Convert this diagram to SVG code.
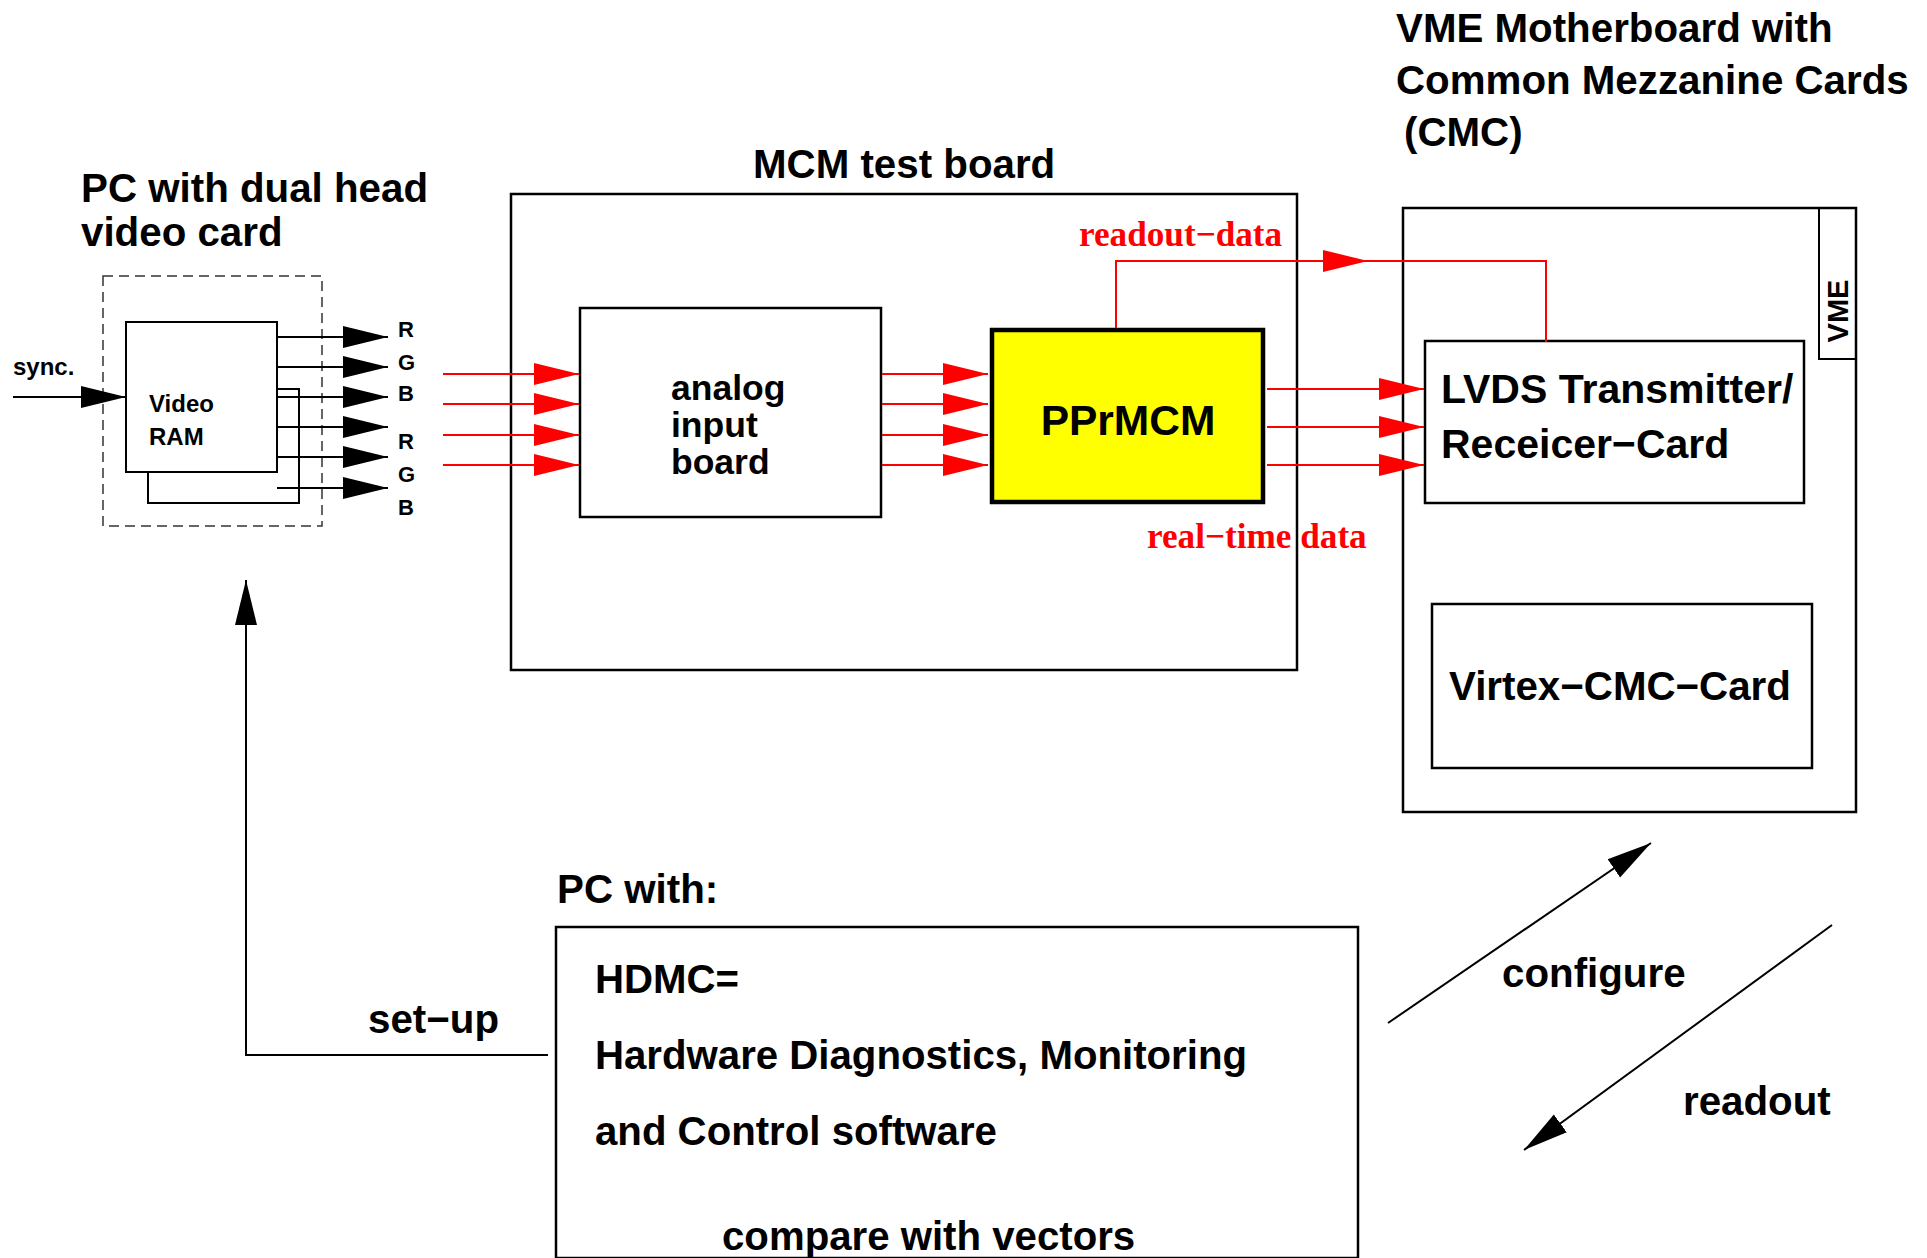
<svg xmlns="http://www.w3.org/2000/svg" width="1927" height="1258" viewBox="0 0 1927 1258">
<defs>
<style>
.t{font-family:"Liberation Sans",Arial,sans-serif;font-weight:bold;fill:#000}
.r{font-family:"Liberation Serif","Times New Roman",serif;font-weight:bold;fill:#ff0000}
.box{fill:#fff;stroke:#000;stroke-width:2.5}
.blk{fill:none;stroke:#000;stroke-width:2}
.red{fill:none;stroke:#ff0000;stroke-width:2}
</style>
<marker id="ab" markerUnits="userSpaceOnUse" markerWidth="46" markerHeight="24" viewBox="0 0 46 24" refX="45" refY="12" orient="auto"><path d="M0,1 L45,12 L0,23 z" fill="#000"/></marker>
<marker id="ar" markerUnits="userSpaceOnUse" markerWidth="46" markerHeight="24" viewBox="0 0 46 24" refX="45" refY="12" orient="auto"><path d="M0,1 L45,12 L0,23 z" fill="#ff0000"/></marker>
</defs>
<rect width="1927" height="1258" fill="#fff"/>

<g id="pc-video">
<text class="t" x="81" y="202" font-size="40.3">PC with dual head</text>
<text class="t" x="81" y="246" font-size="40.3">video card</text>
<rect x="103" y="276" width="219" height="250" fill="none" stroke="#333" stroke-width="1.5" stroke-dasharray="10,6"/>
<polyline class="blk" points="277,389 299,389 299,503 148,503 148,472"/>
<rect x="126" y="322" width="151" height="150" fill="#fff" stroke="#000" stroke-width="2"/>
<text class="t" x="149" y="412" font-size="24">Video</text>
<text class="t" x="149" y="445" font-size="24">RAM</text>
<text class="t" x="13" y="375" font-size="24">sync.</text>
<text class="t" x="398" y="337" font-size="22">R</text>
<text class="t" x="398" y="370" font-size="22">G</text>
<text class="t" x="398" y="401" font-size="22">B</text>
<text class="t" x="398" y="449" font-size="22">R</text>
<text class="t" x="398" y="482" font-size="22">G</text>
<text class="t" x="398" y="515" font-size="22">B</text>
</g>

<g id="mcm-board">
<text class="t" x="753" y="178" font-size="40.3">MCM test board</text>
<rect class="box" x="511" y="194" width="786" height="476" fill="none"/>
</g>

<g id="analog-input">
<rect class="box" x="580" y="308" width="301" height="209"/>
<text class="t" x="671" y="400" font-size="35.5">analog</text>
<text class="t" x="671" y="437" font-size="35.5">input</text>
<text class="t" x="671" y="474" font-size="35.5">board</text>
</g>

<g id="pprmcm">
<rect x="992" y="330" width="271" height="172" fill="#ffff00" stroke="#000" stroke-width="4.5"/>
<text class="t" x="1128" y="435" font-size="42.5" text-anchor="middle">PPrMCM</text>
</g>

<g id="vme">
<text class="t" x="1396" y="42" font-size="40.3">VME Motherboard with</text>
<text class="t" x="1396" y="94" font-size="40.3">Common Mezzanine Cards</text>
<text class="t" x="1404" y="146" font-size="40.3">(CMC)</text>
<rect class="box" x="1403" y="208" width="453" height="604"/>
<polyline class="blk" points="1819,208 1819,359 1856,359"/>
<text class="t" x="1848" y="311" font-size="29" text-anchor="middle" transform="rotate(-90 1848 311)">VME</text>
</g>

<g id="lvds">
<rect class="box" x="1425" y="341" width="379" height="162"/>
<text class="t" x="1441" y="403" font-size="41">LVDS Transmitter/</text>
<text class="t" x="1441" y="458" font-size="41">Receicer−Card</text>
</g>

<g id="virtex">
<rect class="box" x="1432" y="604" width="380" height="164"/>
<text class="t" x="1449" y="700" font-size="40.3">Virtex−CMC−Card</text>
</g>

<g id="pc-hdmc">
<text class="t" x="557" y="903" font-size="40.3">PC with:</text>
<rect class="box" x="556" y="927" width="802" height="331"/>
<text class="t" x="595" y="993" font-size="40.2">HDMC=</text>
<text class="t" x="595" y="1069" font-size="40.2">Hardware Diagnostics, Monitoring</text>
<text class="t" x="595" y="1145" font-size="40.2">and Control software</text>
<text class="t" x="722" y="1250" font-size="40.2">compare with vectors</text>
</g>

<g id="connectors">
<line class="blk" x1="13" y1="397" x2="126" y2="397" marker-end="url(#ab)"/>
<line class="blk" x1="277" y1="337" x2="388" y2="337" marker-end="url(#ab)"/>
<line class="blk" x1="277" y1="367" x2="388" y2="367" marker-end="url(#ab)"/>
<line class="blk" x1="277" y1="397" x2="388" y2="397" marker-end="url(#ab)"/>
<line class="blk" x1="277" y1="427" x2="388" y2="427" marker-end="url(#ab)"/>
<line class="blk" x1="277" y1="457" x2="388" y2="457" marker-end="url(#ab)"/>
<line class="blk" x1="277" y1="488" x2="388" y2="488" marker-end="url(#ab)"/>

<line class="red" x1="443" y1="374" x2="579" y2="374" marker-end="url(#ar)"/>
<line class="red" x1="443" y1="404" x2="579" y2="404" marker-end="url(#ar)"/>
<line class="red" x1="443" y1="435" x2="579" y2="435" marker-end="url(#ar)"/>
<line class="red" x1="443" y1="465" x2="579" y2="465" marker-end="url(#ar)"/>

<line class="red" x1="882" y1="374" x2="988" y2="374" marker-end="url(#ar)"/>
<line class="red" x1="882" y1="404" x2="988" y2="404" marker-end="url(#ar)"/>
<line class="red" x1="882" y1="435" x2="988" y2="435" marker-end="url(#ar)"/>
<line class="red" x1="882" y1="465" x2="988" y2="465" marker-end="url(#ar)"/>

<line class="red" x1="1267" y1="389" x2="1424" y2="389" marker-end="url(#ar)"/>
<line class="red" x1="1267" y1="427" x2="1424" y2="427" marker-end="url(#ar)"/>
<line class="red" x1="1267" y1="465" x2="1424" y2="465" marker-end="url(#ar)"/>

<path class="red" d="M1116,328 V261 H1368" marker-end="url(#ar)"/>
<path class="red" d="M1368,261 H1546 V342"/>
<text class="r" x="1079" y="246" font-size="35.2">readout−data</text>
<text class="r" x="1147" y="548" font-size="35.2">real−time data</text>

<path class="blk" d="M548,1055 H246 V580" marker-end="url(#ab)"/>
<text class="t" x="368" y="1033" font-size="40.3">set−up</text>

<line class="blk" x1="1388" y1="1023" x2="1651" y2="843" marker-end="url(#ab)"/>
<text class="t" x="1502" y="987" font-size="40.3">configure</text>
<line class="blk" x1="1832" y1="925" x2="1524" y2="1150" marker-end="url(#ab)"/>
<text class="t" x="1683" y="1115" font-size="40.3">readout</text>
</g>
</svg>
